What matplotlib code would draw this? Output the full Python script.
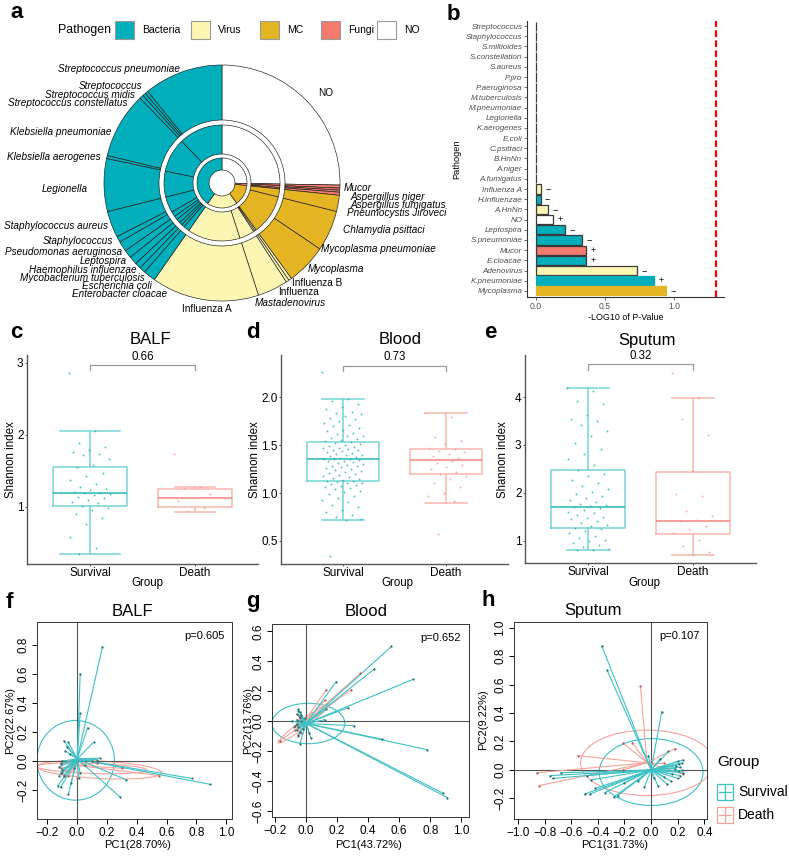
import numpy as np
import matplotlib.pyplot as plt
from matplotlib.patches import Ellipse, Rectangle

plt.rcParams['font.family'] = ['Liberation Sans', 'DejaVu Sans']

W, H = 789, 856

def box(l, t, r, b):
    # pixel box -> figure fraction
    return [l / W, 1 - b / H, (r - l) / W, (b - t) / H]

pal = {"Bacteria": "#00AFBB", "Virus": "#FDF6B3", "MC": "#E4B422",
       "Fungi": "#F47B6D", "NO": "#FFFFFF"}

# ---------------- a : sunburst ----------------
legend_names = ["Bacteria", "Virus", "MC", "Fungi", "NO"]
inner_names = ["NO", "Fungi", "MC", "Virus", "Bacteria"]
inner_sizes = [91, 5, 48, 71, 145]
mid_cats = ["NO", "Fungi", "Fungi", "Fungi", "MC", "MC", "Virus", "Virus", "Virus", "Virus",
            "Bacteria", "Bacteria", "Bacteria", "Bacteria", "Bacteria", "Bacteria",
            "Bacteria", "Bacteria", "Bacteria", "Bacteria"]
mid_sizes = [91, 1.5, 2, 1.5, 8, 40, 1.5, 1.5, 15, 53, 6, 3, 3, 4, 4, 5, 16, 26, 34, 44]
outer_names = ["NO", "Mucor", "Aspergillus niger", "Aspergillus fumigatus", "Pneumocystis Jiroveci",
               "Chlamydia psittaci", "Mycoplasma pneumoniae", "Mycoplasma", "Influenza B", "Influenza",
               "Mastadenovirus", "Influenza A", "Enterobacter cloacae", "Escherichia coli",
               "Mycobacterium tuberculosis", "Haemophilus influenzae", "Leptospira",
               "Pseudomonas aeruginosa", "Staphylococcus", "Staphylococcus aureus", "Legionella",
               "Klebsiella aerogenes", "Klebsiella pneumoniae", "Streptococcus constellatus",
               "Streptococcus midis", "Streptococcus", "Streptococcus pneumoniae"]
outer_cats = ["NO"] + ["Fungi"] * 4 + ["MC"] * 3 + ["Virus"] * 4 + ["Bacteria"] * 15
outer_sizes = [91, 1.5, 1, 1, 1.5, 8, 20, 20, 1.5, 1.5, 15, 53, 6, 3, 3, 4, 4, 5, 3, 13,
               26, 1.5, 32.5, 2, 1.5, 1.5, 39]
upright = ["NO", "Influenza A", "Influenza B", "Influenza"]

# label placement (pixels)
a_lab = [(318, 93, "left"), (344, 188, "left"), (350, 196.5, "left"), (350, 205, "left"),
         (347, 213.5, "left"), (343, 230, "left"), (321, 249, "left"), (308, 269, "left"),
         (292, 283, "left"), (278, 292, "left"), (255, 303, "left"), (207, 309, "center"),
         (167, 294, "right"), (152, 286, "right"), (145, 278, "right"), (137, 270, "right"),
         (127, 261, "right"), (122, 252, "right"), (113, 241, "right"), (108, 226, "right"),
         (88, 189, "right"), (101, 157, "right"), (112, 132, "right"), (127, 103, "right"),
         (135, 95, "right"), (142, 86, "right"), (180, 69, "right")]

# ---------------- b : p-values ----------------
b_names = ["Streptococcus", "Staphylococcus", "S.miltioides", "S.constellation", "S.aureus",
           "P.jiro", "P.aeruginosa", "M.tuberculosis", "M.pneumoniae", "Legionella",
           "K.aerogenes", "E.coli", "C.psittaci", "B.HnNn", "A.niger", "A.fumigatus",
           "Influenza A", "H.influenzae", "A.HnNn", "NO", "Leptospira", "S.pneumoniae",
           "Mucor", "E.cloacae", "Adenovirus", "K.pneumoniae", "Mycoplasma"]
b_values = [0] * 16 + [0.036, 0.034, 0.089, 0.125, 0.213, 0.336, 0.365, 0.365, 0.731, 0.856, 0.94]
b_groups = ["Bacteria"] * 16 + ["Virus", "Bacteria", "Virus", "NO", "Bacteria", "Bacteria",
                                "Fungi", "Bacteria", "Virus", "Bacteria", "MC"]
b_signs = [""] * 16 + ["\u2212", "\u2212", "\u2212", "+", "\u2212", "\u2212", "+", "+",
                       "\u2212", "+", "\u2212"]
b_outlined = [True] * 25 + [False, False]

# ---------------- c-e : Shannon ----------------
groups = ["Survival", "Death"]
c_stats = [(1.01, 1.19, 1.55, 0.35, 2.06), (1.00, 1.13, 1.25, 0.93, 1.28)]
c_surv = [2.86, 2.06, 1.89, 1.83, 1.79, 1.76, 1.74, 1.72, 1.66, 1.58, 1.55, 1.47, 1.43, 1.38,
          1.32, 1.28, 1.25, 1.23, 1.21, 1.20, 1.19, 1.18, 1.16, 1.14, 1.12, 1.10, 1.07, 1.05,
          1.02, 0.99, 0.96, 0.90, 0.85, 0.76, 0.58, 0.43, 0.35]
c_death = [1.73, 1.28, 1.27, 1.18, 1.13, 1.08, 0.98, 0.94]
d_stats = [(1.125, 1.35, 1.53, 0.72, 1.98), (1.20, 1.34, 1.46, 0.90, 1.83)]
d_surv = [2.26, 1.98, 1.96, 1.93, 1.90, 1.88, 1.85, 1.84, 1.82, 1.80, 1.78, 1.77, 1.75, 1.73,
          1.71, 1.70, 1.68, 1.66, 1.65, 1.63, 1.62, 1.60, 1.59, 1.57, 1.56, 1.55, 1.54, 1.53,
          1.52, 1.51, 1.50, 1.49, 1.48, 1.47, 1.47, 1.46, 1.45, 1.45, 1.44, 1.43, 1.42, 1.41,
          1.40, 1.40, 1.39, 1.38, 1.37, 1.36, 1.36, 1.35, 1.34, 1.33, 1.33, 1.32, 1.31, 1.30,
          1.29, 1.28, 1.28, 1.27, 1.26, 1.25, 1.24, 1.23, 1.22, 1.21, 1.20, 1.19, 1.18, 1.17,
          1.16, 1.15, 1.14, 1.13, 1.13, 1.12, 1.11, 1.10, 1.09, 1.08, 1.07, 1.06, 1.05, 1.04,
          1.02, 1.01, 0.99, 0.97, 0.95, 0.93, 0.91, 0.88, 0.85, 0.82, 0.80, 0.77, 0.75, 0.73,
          0.72, 0.34]
d_death = [1.83, 1.79, 1.58, 1.54, 1.51, 1.47, 1.46, 1.44, 1.43, 1.41, 1.39, 1.37, 1.35, 1.34,
           1.33, 1.31, 1.29, 1.27, 1.25, 1.22, 1.20, 1.18, 1.15, 1.11, 1.06, 1.00, 0.97, 0.92,
           0.57]
e_stats = [(1.27, 1.71, 2.48, 0.80, 4.20), (1.13, 1.41, 2.44, 0.70, 3.98)]
e_surv = [4.20, 4.12, 3.92, 3.85, 3.62, 3.55, 3.50, 3.42, 3.30, 3.18, 3.05, 2.92, 2.80, 2.70,
          2.58, 2.48, 2.40, 2.35, 2.27, 2.20, 2.13, 2.08, 2.02, 1.97, 1.93, 1.88, 1.85, 1.80,
          1.77, 1.74, 1.72, 1.70, 1.68, 1.64, 1.60, 1.57, 1.53, 1.50, 1.47, 1.44, 1.40, 1.37,
          1.33, 1.30, 1.27, 1.24, 1.20, 1.15, 1.10, 1.06, 1.02, 0.98, 0.94, 0.90, 0.86, 0.83,
          0.81, 0.80]
e_death = [4.50, 3.98, 3.55, 3.20, 2.45, 1.97, 1.93, 1.62, 1.52, 1.43, 1.40, 1.30, 1.24, 1.15,
           1.02, 0.88, 0.75, 0.70]
p_values = ["0.66", "0.73", "0.32"]

# ---------------- f-h : PCoA ----------------
f_sc = (0.0, 0.015)
f_sx = [0.17, 0.02, 0.02, 0.07, 0.11, 0.15, 0.33, 0.89, 0.77, 0.29, -0.06, -0.07, -0.08, -0.05,
        -0.1, -0.11, -0.12, -0.1, -0.11, -0.09, -0.12, -0.13, -0.11, -0.06, 0.01, 0.02, -0.04,
        -0.02, 0.05, 0.1, 0.13, -0.09]
f_sy = [0.79, 0.60, 0.33, 0.23, 0.13, 0.02, -0.13, -0.16, -0.12, -0.25, 0.13, 0.10, 0.07, 0.05,
        0.0, -0.02, -0.04, -0.06, -0.08, -0.1, -0.1, -0.17, -0.18, -0.23, -0.12, -0.08, -0.15,
        -0.05, -0.03, 0.0, 0.01, 0.14]
f_dc = (0.0, -0.03)
f_dx = [-0.11, -0.11, -0.1, -0.09, 0.13, 0.3, 0.55, -0.06, 0.0]
f_dy = [-0.01, -0.05, -0.08, -0.1, -0.01, -0.05, -0.1, -0.1, -0.12]
f_ell = [("s", -0.01, 0.005, 0.52, 0.55, 0), ("d", 0.15, -0.06, 0.84, 0.12, -3),
         ("d", 0.10, -0.05, 0.74, 0.07, -2)]

g_sc = (0.0, -0.015)
g_sx = [0.55, 0.44, 0.69, 0.19, 0.27, 0.13, 0.31, 0.12, 0.49, 0.78, 0.88, 0.91, 0.02, -0.04,
        -0.06, -0.05, -0.04, -0.03, -0.06, -0.05, -0.02, -0.04, -0.06, -0.03, -0.05, -0.01,
        -0.07, -0.04, -0.05, 0.03, -0.09, -0.06]
g_sy = [0.50, 0.35, 0.28, 0.26, 0.09, 0.08, -0.03, 0.01, -0.12, -0.19, -0.48, -0.51, -0.08,
        -0.15, 0.05, 0.08, 0.03, 0.0, -0.02, -0.04, -0.05, -0.07, 0.01, 0.04, -0.09, 0.02,
        -0.03, 0.06, 0.07, -0.11, 0.0, -0.06]
g_dc = (-0.03, -0.03)
g_dx = [0.35, 0.29, 0.13, 0.12, -0.17, -0.05, -0.07, -0.06, -0.04, -0.08, -0.05, -0.03]
g_dy = [0.32, 0.21, 0.21, 0.14, -0.13, -0.10, -0.06, -0.02, 0.02, -0.04, 0.04, -0.08]
g_ell = [("s", 0.015, -0.015, 0.47, 0.27, 0), ("d", -0.015, -0.015, 0.42, 0.05, 38)]

h_sc = (0.0, 0.0)
h_sx = [-0.37, -0.33, 0.08, 0.13, 0.07, -0.76, -0.74, -0.68, -0.50, -0.46, -0.42, -0.35, -0.28,
        -0.25, -0.48, -0.45, -0.2, -0.1, -0.05, 0.1, 0.2, 0.21, 0.22, 0.23, 0.24, 0.22, 0.2,
        0.19, 0.23, 0.21, 0.18, 0.15, 0.12, 0.16, 0.24, 0.05, -0.02, 0.02]
h_sy = [0.87, 0.70, 0.41, 0.13, 0.08, -0.04, -0.06, -0.02, -0.17, -0.17, -0.13, -0.16, -0.19,
        -0.18, -0.04, -0.07, -0.09, -0.08, -0.12, -0.05, 0.06, 0.04, 0.02, 0.0, -0.02, -0.04,
        -0.06, 0.03, 0.05, -0.01, 0.01, -0.08, -0.1, -0.03, 0.07, -0.11, 0.1, -0.06]
h_dc = (-0.03, 0.05)
h_dx = [-0.08, -0.21, -0.14, -0.55, 0.18, -0.86, -0.84, -0.21, 0.24, 0.1]
h_dy = [0.59, 0.19, 0.19, 0.10, 0.15, -0.02, -0.11, 0.0, -0.03, 0.05]
h_ell = [("s", 0.0, -0.015, 0.78, 0.47, 0), ("d", -0.03, 0.05, 1.0, 0.46, 0)]

surv_line, death_line = "#3EC1C4", "#F5A39B"

fig = plt.figure(figsize=(W / 100, H / 100), dpi=100)

# ---- a ----
axa = fig.add_axes(box(0, 0, 460, 335))
for sizes, cats, r, w in [(outer_sizes, outer_cats, 118, 55), (mid_sizes, mid_cats, 58, 29),
                          (inner_sizes, inner_names, 25, 12)]:
    axa.pie(sizes, colors=[pal[c] for c in cats], radius=r, center=(222, 183), startangle=270,
            counterclock=True, wedgeprops=dict(width=w, edgecolor="#1a1a1a", linewidth=0.45))
axa.set_xlim(0, 460)
axa.set_ylim(335, 0)
axa.set_aspect("auto")
axa.axis("off")
for name, (x, y, ha) in zip(outer_names, a_lab):
    axa.text(x, y, name, ha=ha, va="center", fontsize=7.2,
             fontstyle="normal" if name in upright else "italic")
axa.text(58, 30, "Pathogen", ha="left", va="center", fontsize=8.9)
for name, x0 in zip(legend_names, [115, 191, 260, 321, 377]):
    axa.add_patch(Rectangle((x0, 21), 19, 18, facecolor=pal[name], edgecolor="#9a9a9a", lw=0.8))
    axa.text(x0 + 27, 30, name, ha="left", va="center", fontsize=7.5)

# ---- b ----
axb = fig.add_axes(box(527, 21, 724, 297))
yb = np.arange(len(b_names))
axb.barh(yb, b_values, height=0.9, color=[pal[g] for g in b_groups],
         edgecolor=["#3a3a3a" if o else pal[g] for o, g in zip(b_outlined, b_groups)],
         linewidth=0.9)
axb.axvline(-np.log10(0.05), color="red", ls=(0, (3, 1.5)), lw=1.6)
for y, v, s in zip(yb, b_values, b_signs):
    if s:
        axb.text(v + 0.03, y, s, va="center", ha="left", fontsize=6.5)
axb.set_ylim(26.6, -0.5)
axb.set_xlim(-0.065, 1.36)
axb.set_yticks(yb, b_names, fontstyle="italic", fontsize=5.8, color="#4d4d4d")
axb.set_xticks([0, 0.5, 1.0], ["0.0", "0.5", "1.0"], fontsize=6.2, color="#4d4d4d")
axb.tick_params(length=2.2, width=0.6, color="#555", pad=1.2)
for sp in ["top", "right"]:
    axb.spines[sp].set_visible(False)
for sp in ["left", "bottom"]:
    axb.spines[sp].set_color("#333")
    axb.spines[sp].set_linewidth(0.8)
axb.set_xlabel("-LOG10 of P-Value", fontsize=6.4, labelpad=1.5)
axb.set_ylabel("Pathogen", fontsize=6.6, labelpad=3)

# ---- c-e ----
def jit(n, w=0.2):
    return ((np.arange(n) * 0.6180339887) % 1 - 0.5) * 2 * w

box_specs = [
    (box(27, 355, 258, 564), c_stats, c_surv, c_death, (0.208, 3.111), [1, 2, 3], ["1", "2", "3"], 2.97, 2.90, [0.58, 0.38]),
    (box(281, 355, 508, 564), d_stats, d_surv, d_death, (0.26, 2.44), [0.5, 1.0, 1.5, 2.0], ["0.5", "1.0", "1.5", "2.0"], 2.33, 2.27, [0.4, 0.4]),
    (box(525, 355, 756, 563), e_stats, e_surv, e_death, (0.53, 4.88), [1, 2, 3, 4], ["1", "2", "3", "4"], 4.69, 4.57, [0.4, 0.4]),
]
edge_cols = ["#74D5D8", "#F9B5AE"]
med_cols = ["#26B6BB", "#F4857B"]
pt_cols = ["#17B3B8", "#F59389"]
for (rect, st, ps, pd_, yl, yt, ytl, bry, brt, capw), pv in zip(box_specs, p_values):
    ax = fig.add_axes(rect)
    stats = [dict(q1=s[0], med=s[1], q3=s[2], whislo=s[3], whishi=s[4], fliers=[]) for s in st]
    for i, (s, pts) in enumerate(zip(stats, [ps, pd_])):
        art = ax.bxp([s], positions=[i], widths=0.7, capwidths=[capw[i]], showfliers=False,
                     manage_ticks=False)
        for k in ["boxes", "whiskers", "caps"]:
            for a in art[k]:
                a.set_color(edge_cols[i])
                a.set_linewidth(1.1)
        for a in art["medians"]:
            a.set_color(med_cols[i])
            a.set_linewidth(1.1)
        ax.scatter(i + jit(len(pts)), pts, s=1.8, color=pt_cols[i], alpha=0.8, lw=0, zorder=3)
    ax.plot([0, 0, 1, 1], [brt, bry, bry, brt], color="#999999", lw=0.9)
    ax.text(0.5, bry + (yl[1] - yl[0]) * 0.012, pv, ha="center", va="bottom", fontsize=8.3)
    ax.set_xlim(-0.6, 1.6)
    ax.set_ylim(*yl)
    ax.set_xticks([0, 1], groups, fontsize=8.5)
    ax.set_yticks(yt, ytl, fontsize=8.5)
    ax.tick_params(length=1.5, width=0.6, color="#333", pad=1)
    for sp in ["top", "right"]:
        ax.spines[sp].set_visible(False)
    for sp in ["left", "bottom"]:
        ax.spines[sp].set_color("#555")
        ax.spines[sp].set_linewidth(1.0)

# ---- f-h ----
pca_specs = [
    (box(37, 622, 232, 819), (-0.27, 1.04), (-0.40, 0.96), np.arange(-0.2, 1.01, 0.2), np.arange(-0.2, 0.81, 0.2),
     f_sc, f_sx, f_sy, f_dc, f_dx, f_dy, f_ell, "p=0.605"),
    (box(272, 624, 469, 817), (-0.22, 1.05), (-0.64, 0.65), np.arange(-0.2, 1.01, 0.2), np.arange(-0.6, 0.61, 0.2),
     g_sc, g_sx, g_sy, g_dc, g_dx, g_dy, g_ell, "p=0.652"),
    (box(514, 622, 707, 819), (-1.03, 0.42), (-0.345, 1.04), np.arange(-1.0, 0.41, 0.2), np.arange(-0.2, 1.01, 0.2),
     h_sc, h_sx, h_sy, h_dc, h_dx, h_dy, h_ell, "p=0.107"),
]
for rect, xl, yl, xt, yt, sc, sx, sy, dc, dx, dy, ells, ptxt in pca_specs:
    ax = fig.add_axes(rect)
    ax.axhline(0, color="#555", lw=0.8)
    ax.axvline(0, color="#555", lw=0.8)
    for c, xs, ys, col in [(dc, dx, dy, death_line), (sc, sx, sy, surv_line)]:
        for x, y in zip(xs, ys):
            ax.plot([c[0], x], [c[1], y], color=col, lw=0.8)
        ax.scatter(xs, ys, s=2.5, color="#1F6F72" if col == surv_line else "#B5524A", zorder=4, lw=0)
    for g, cx, cy, w, h, ang in ells:
        ax.add_patch(Ellipse((cx, cy), w, h, angle=ang, fill=False,
                             edgecolor=surv_line if g == "s" else death_line, lw=0.8))
    ax.text(0.96, 0.93, ptxt, transform=ax.transAxes, ha="right", va="center", fontsize=8)
    ax.set_xlim(*xl)
    ax.set_ylim(*yl)
    ax.set_xticks(xt, [f"{v:.1f}".replace("-", "\u2212") if abs(v) > 1e-9 else "0.0" for v in xt], fontsize=8.5)
    ax.set_yticks(yt, [f"{v:.1f}".replace("-", "\u2212") if abs(v) > 1e-9 else "0.0" for v in yt], fontsize=8.5,
                  rotation=90, va="center")
    ax.tick_params(length=3.5, width=0.7, pad=2)
    for sp in ax.spines.values():
        sp.set_linewidth(0.7)
        sp.set_color("#333")

# ---- overlay text ----
ov = fig.add_axes([0, 0, 1, 1], zorder=5)
ov.set_xlim(0, W)
ov.set_ylim(H, 0)
ov.axis("off")
for lab, x, y in [("a", 10, 12), ("b", 447, 14), ("c", 10, 333), ("d", 246, 333), ("e", 484, 333),
                  ("f", 6, 602), ("g", 246, 602), ("h", 482, 600)]:
    ov.text(x, y, lab, fontsize=16, fontweight="bold", ha="left", va="center")
for t, x in [("BALF", 150), ("Blood", 400), ("Sputum", 647)]:
    ov.text(x, 340, t, fontsize=12, ha="center", va="center")
for x in [11, 255, 503]:
    ov.text(x, 460, "Shannon index", rotation=90, fontsize=8.3, ha="center", va="center")
for x in [147, 397, 644]:
    ov.text(x, 583, "Group", fontsize=8.3, ha="center", va="center")
for t, x in [("BALF", 132), ("Blood", 366), ("Sputum", 593)]:
    ov.text(x, 611, t, fontsize=12, ha="center", va="center")
for t, x in [("PC1(28.70%)", 138), ("PC1(43.72%)", 369), ("PC1(31.73%)", 615)]:
    ov.text(x, 845, t, fontsize=8, ha="center", va="center")
for t, x in [("PC2(22.67%)", 10), ("PC2(13.76%)", 248), ("PC2(9.22%)", 483)]:
    ov.text(x, 720, t, fontsize=8, rotation=90, ha="center", va="center")
ov.text(717, 762, "Group", fontsize=11, ha="left", va="center")
for name, y, col in [("Survival", 792, surv_line), ("Death", 815, death_line)]:
    ov.add_patch(Rectangle((717, y - 8), 16, 16, fill=False, edgecolor=col, lw=0.9))
    ov.plot([719, 731], [y, y], color=col, lw=0.9)
    ov.plot([725, 725], [y - 8, y + 8], color=col, lw=0.9)
    ov.text(738, y, name, fontsize=10, ha="left", va="center")

fig.savefig("out.png", dpi=100)
